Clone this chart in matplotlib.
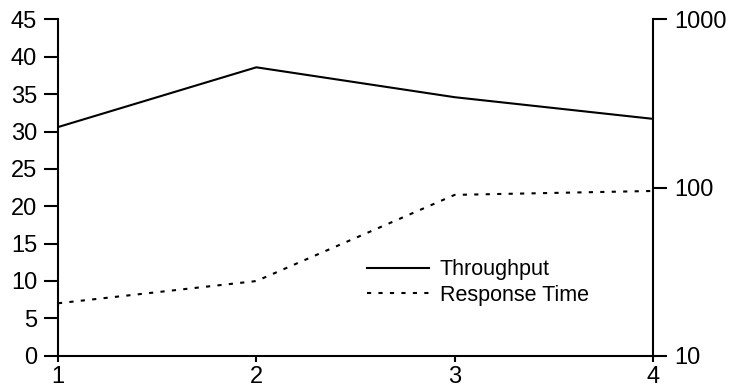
import matplotlib
matplotlib.use("Agg")
import matplotlib.pyplot as plt
from matplotlib.ticker import FixedLocator, NullLocator, FixedFormatter

plt.rcParams["font.family"] = ["Liberation Sans", "DejaVu Sans"]

x = [1, 2, 3, 4]
throughput = [30.6, 38.6, 34.6, 31.7]
response_time = [20.5, 27.8, 90.5, 95.5]
left_ticks = [0, 5, 10, 15, 20, 25, 30, 35, 40, 45]
right_ticks = [10, 100, 1000]

fig = plt.figure(figsize=(7.34, 3.86), dpi=100)
ax = fig.add_axes([0.079, 0.0785, 0.8106, 0.871])
ax2 = ax.twinx()

l1, = ax.plot(x, throughput, color="black", lw=1.5, label="Throughput")
l2, = ax2.plot(x, response_time, color="black", lw=1.5,
               linestyle=(0, (2, 3.5)), label="Response Time")

ax.set_xlim(1, 4)
ax.set_ylim(0, 45)
ax.set_xticks(x)
ax.set_yticks(left_ticks)

ax2.set_yscale("log")
ax2.set_ylim(10, 1000)
ax2.yaxis.set_major_locator(FixedLocator(right_ticks))
ax2.yaxis.set_major_formatter(FixedFormatter([str(t) for t in right_ticks]))
ax2.yaxis.set_minor_locator(NullLocator())

for a in (ax, ax2):
    a.spines["top"].set_visible(False)
    for s in a.spines.values():
        s.set_linewidth(1.5)
ax.spines["right"].set_visible(False)
ax2.spines["left"].set_visible(False)
ax2.spines["bottom"].set_visible(False)

ax.tick_params(axis="y", length=10, width=1.5, pad=5, labelsize=17)
ax.tick_params(axis="x", length=4.5, width=1.5, pad=3, labelsize=17)
ax2.tick_params(axis="y", length=10, width=1.5, pad=5, labelsize=17)

ax2.legend(handles=[l1, l2], loc="upper left", bbox_to_anchor=(0.519, 0.287),
           frameon=False, fontsize=15.5, handlelength=2.9, handletextpad=0.5,
           borderpad=0, borderaxespad=0, labelspacing=0.2)

fig.savefig("out.png", dpi=100)
